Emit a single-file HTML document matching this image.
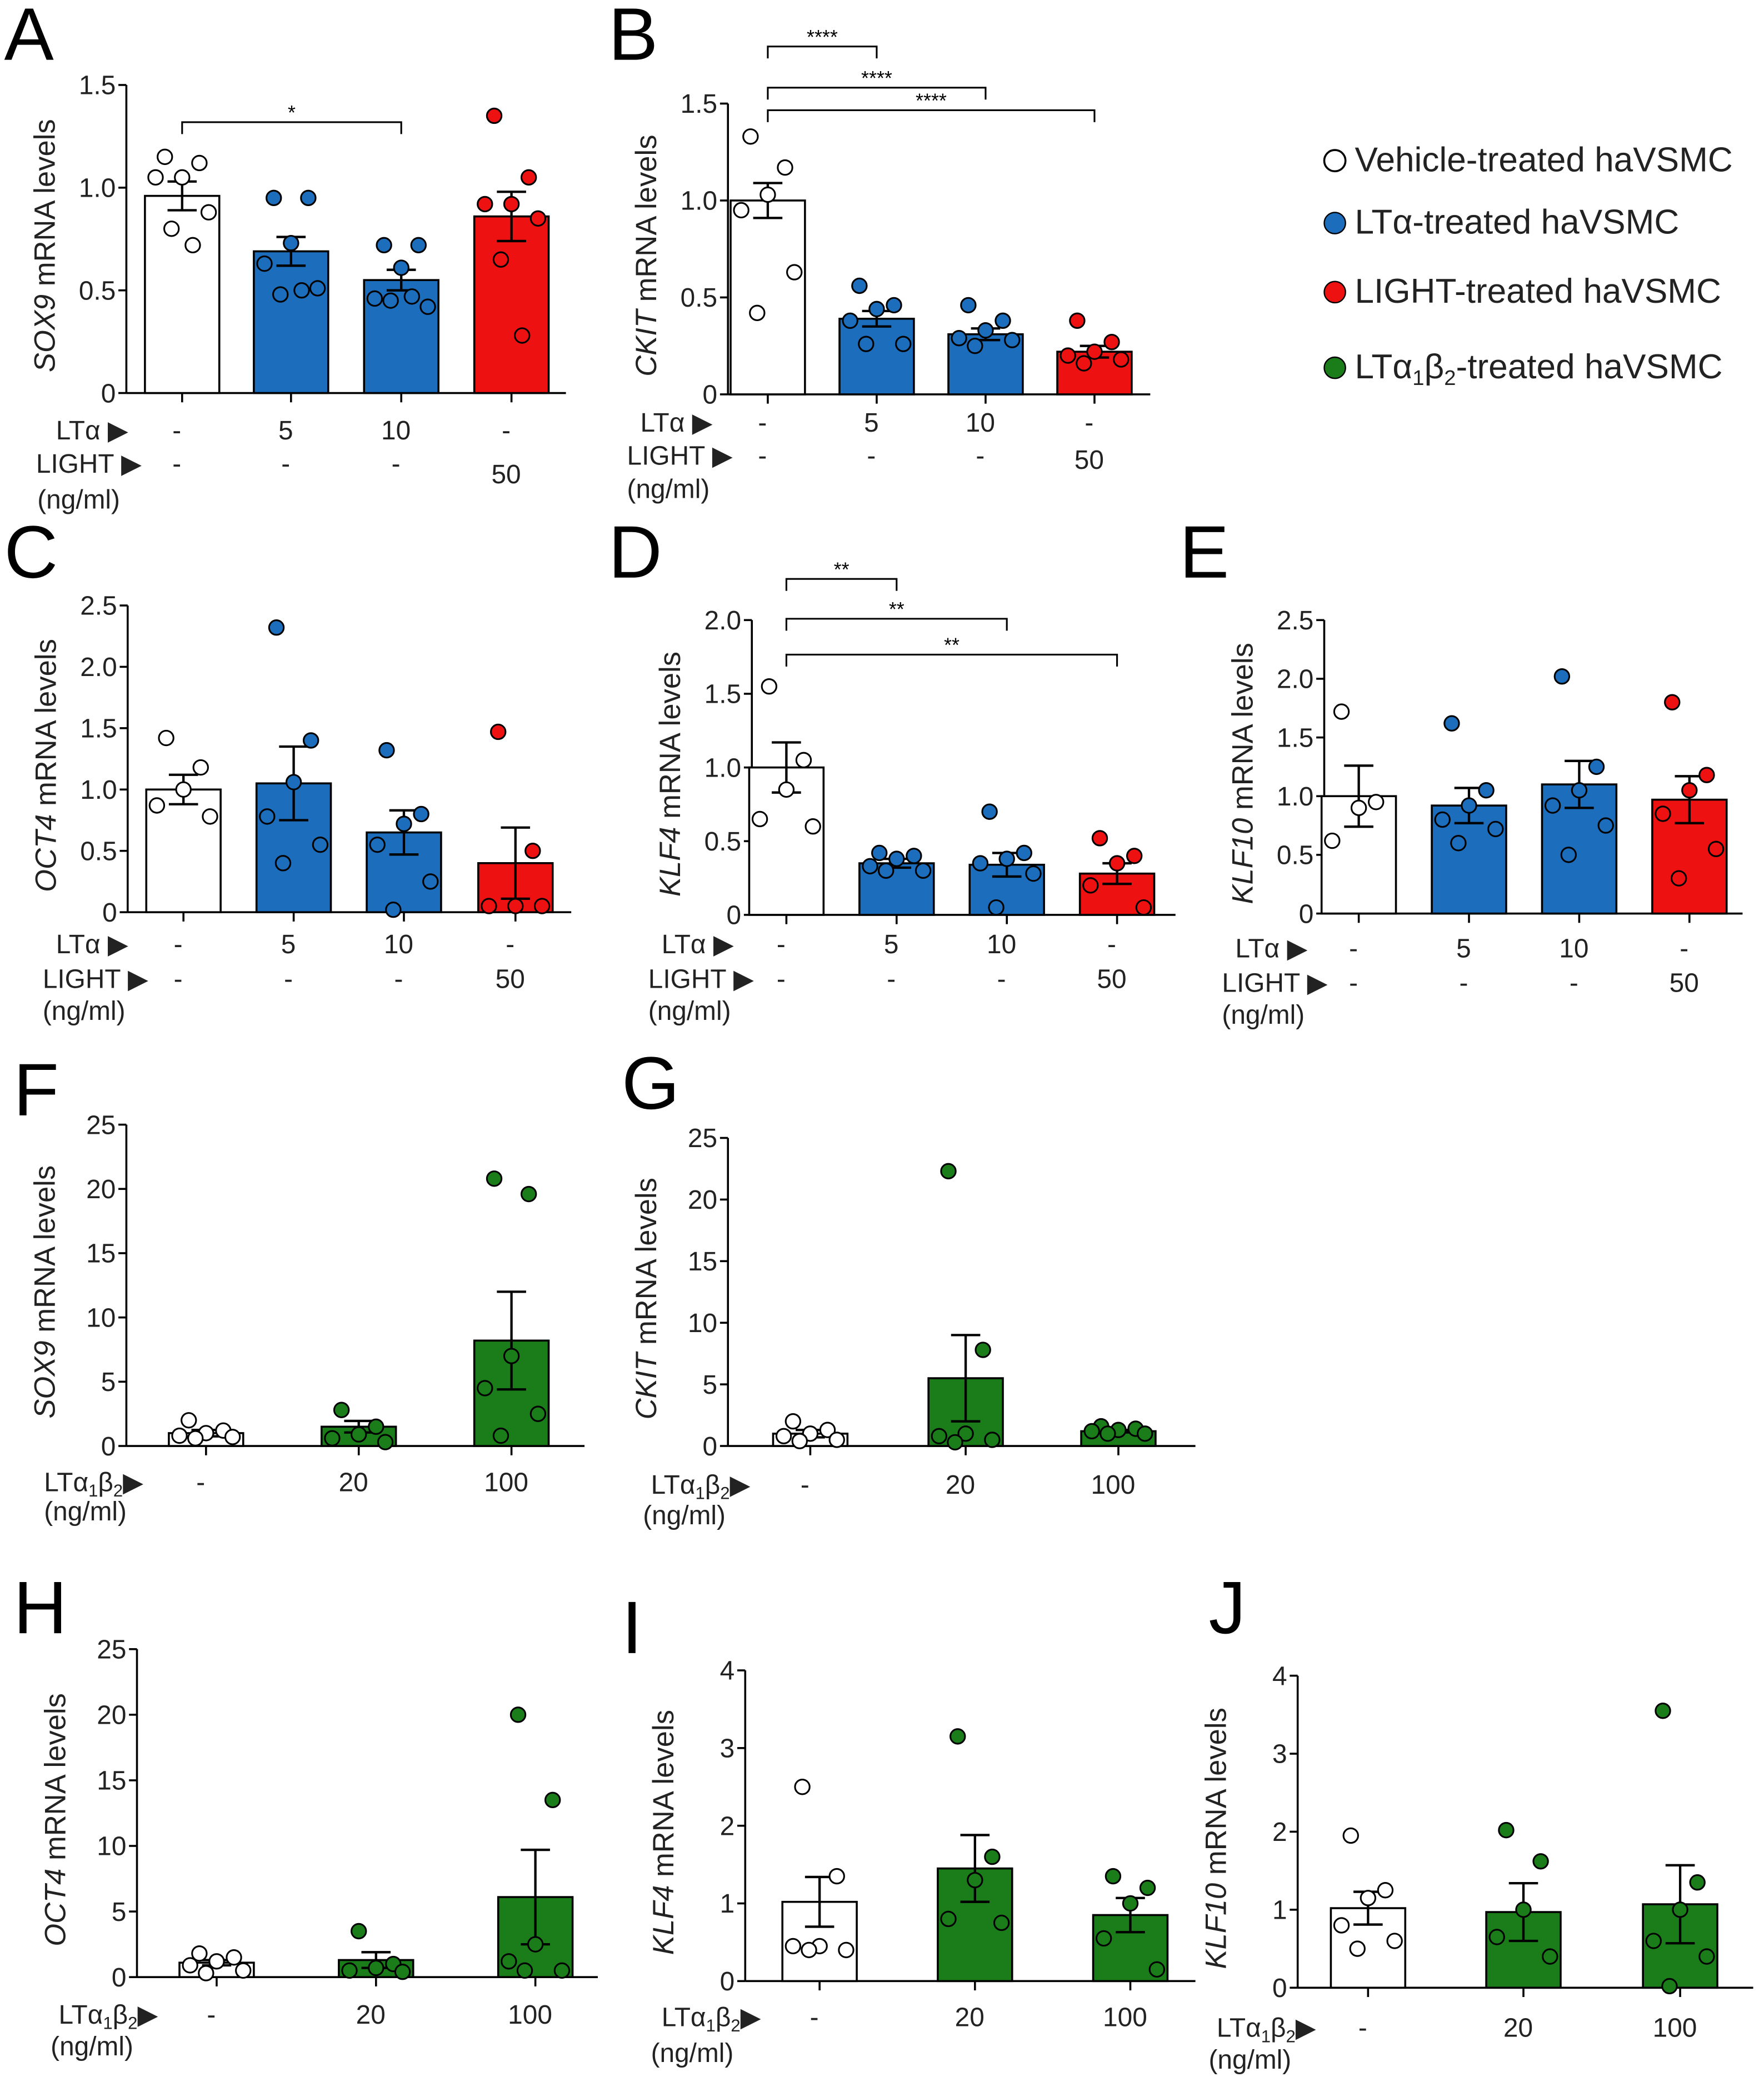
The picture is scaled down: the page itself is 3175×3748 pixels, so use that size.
<!DOCTYPE html>
<html><head><meta charset="utf-8"><style>
html,body{margin:0;padding:0;background:#fff;}
svg{display:block;font-family:"Liberation Sans",Arial,sans-serif;}
</style></head><body>
<svg id="fig" width="3175" height="3748" viewBox="0 0 1328 1568" xmlns="http://www.w3.org/2000/svg">
<g id="legend" font-size="26" fill="#222">
<circle cx="1005" cy="121" r="8" fill="#fff" stroke="#000" stroke-width="1.5"/>
<text x="1020" y="129">Vehicle-treated haVSMC</text>
<circle cx="1005" cy="168" r="8" fill="#1c6ebd" stroke="#000" stroke-width="1"/>
<text x="1020" y="176">LTα-treated haVSMC</text>
<circle cx="1005" cy="220" r="8" fill="#ee1111" stroke="#000" stroke-width="1"/>
<text x="1020" y="228">LIGHT-treated haVSMC</text>
<circle cx="1005" cy="277" r="8" fill="#1a7d1a" stroke="#000" stroke-width="1"/>
<text x="1020" y="285">LTα<tspan font-size="16" dy="5">1</tspan><tspan dy="-5">β</tspan><tspan font-size="16" dy="5">2</tspan><tspan dy="-5">-treated haVSMC</tspan></text>
</g>
</svg>
<script>
// ---- data ----
const A_means=[0.96,0.69,0.55,0.86];
const A_err=[0.07,0.07,0.05,0.12];
const A_pts=[[1.15,1.12,1.05,1.05,0.88,0.80,0.72],[0.95,0.95,0.73,0.63,0.51,0.48,0.50],[0.72,0.72,0.61,0.46,0.42,0.45,0.47],[1.35,1.05,0.92,0.92,0.85,0.65,0.28]];
const B_means=[1.00,0.39,0.31,0.22];
const B_err=[0.09,0.04,0.03,0.03];
const B_pts=[[1.33,1.17,1.03,0.95,0.63,0.42],[0.56,0.46,0.44,0.38,0.26,0.26],[0.46,0.38,0.33,0.29,0.28,0.25],[0.38,0.27,0.22,0.20,0.18,0.16]];
const C_means=[1.00,1.05,0.65,0.40];
const C_err=[0.12,0.30,0.18,0.29];
const C_pts=[[1.42,1.18,1.00,0.87,0.78],[2.32,1.40,1.06,0.78,0.55,0.40],[1.32,0.80,0.72,0.55,0.25,0.02],[1.47,0.50,0.05,0.05,0.05]];
const D_means=[1.00,0.35,0.34,0.28];
const D_err=[0.17,0.03,0.08,0.07];
const D_pts=[[1.55,1.05,0.85,0.65,0.60],[0.42,0.40,0.38,0.33,0.30,0.30],[0.70,0.42,0.38,0.35,0.28,0.05],[0.52,0.40,0.35,0.20,0.05]];
const E_means=[1.00,0.92,1.10,0.97];
const E_err=[0.26,0.15,0.20,0.20];
const E_pts=[[1.72,0.95,0.90,0.62],[1.62,1.05,0.92,0.80,0.72,0.60],[2.02,1.25,1.05,0.92,0.75,0.50],[1.80,1.18,1.05,0.85,0.55,0.30]];
const F_means=[1.0,1.5,8.2];
const F_err=[0.25,0.45,3.8];
const F_pts=[[2.0,1.2,1.0,0.8,0.7,0.6],[2.8,1.5,0.9,0.6,0.3],[20.8,19.6,7.0,4.5,2.5,0.8]];
const G_means=[1.0,5.5,1.2];
const G_err=[0.3,3.5,0.1];
const G_pts=[[2.0,1.3,1.0,0.8,0.5,0.4],[22.3,7.8,1.0,0.8,0.5,0.3],[1.6,1.4,1.3,1.2,1.0,1.0]];
const H_means=[1.1,1.3,6.1];
const H_err=[0.2,0.6,3.6];
const H_pts=[[1.8,1.5,1.2,0.9,0.5,0.3],[3.5,1.0,0.7,0.5,0.4],[20.0,13.5,2.5,1.2,0.5,0.5]];
const I_means=[1.02,1.45,0.85];
const I_err=[0.32,0.43,0.22];
const I_pts=[[2.5,1.35,0.45,0.45,0.4,0.4],[3.15,1.6,1.3,0.8,0.75],[1.35,1.2,1.0,0.55,0.15]];
const J_means=[1.02,0.97,1.07];
const J_err=[0.21,0.37,0.5];
const J_pts=[[1.95,1.25,1.15,0.8,0.6,0.5],[2.02,1.62,1.0,0.65,0.4],[3.55,1.35,1.0,0.6,0.4,0.02]];
const ticks15=["0","0.5","1.0","1.5"],ticks25=["0","0.5","1.0","1.5","2.0","2.5"],ticks20=["0","0.5","1.0","1.5","2.0"],ticksBig=["0","5","10","15","20","25"],ticks4=["0","1","2","3","4"];
const tickVals15=[0,0.5,1,1.5],tickVals25=[0,0.5,1,1.5,2,2.5],tickVals20=[0,0.5,1,1.5,2],tickValsBig=[0,5,10,15,20,25],tickVals4=[0,1,2,3,4];

const W='#ffffff',BL='#1c6ebd',RD='#ee1111',GR='#1a7d1a';
const NS='http://www.w3.org/2000/svg';
const svg=document.getElementById('fig');
function el(tag,attrs,parent,text){const e=document.createElementNS(NS,tag);for(const k in attrs)e.setAttribute(k,attrs[k]);if(text!==undefined)e.textContent=text;(parent||svg).appendChild(e);return e;}

function panel(p){
  const g=el('g',{});
  
  
  const y=v=>p.y0-(v/p.vmax)*(p.y0-p.ytop);
  const lt=el('text',{x:p.lx,y:p.ly,'font-size':56},g,p.id);
  
  
  const ax=el('line',{x1:p.ax,y1:p.ytop,x2:p.ax,y2:p.y0,stroke:'#000','stroke-width':1.5},g);
  
  
  p.tv.forEach((v,i)=>{
    el('line',{x1:p.ax-6,y1:y(v),x2:p.ax,y2:y(v),stroke:'#000','stroke-width':1.5},g);
    const t=el('text',{x:p.ax-8,y:y(v)+7,'font-size':20,'text-anchor':'end',fill:'#222'},g,p.tl[i]);
    
    
  });
  const yt=el('text',{transform:`translate(${p.ax-54},${(p.ytop+p.y0)/2+5}) rotate(-90)`,'font-size':22,'text-anchor':'middle',fill:'#222'},g);
  
  
  el('tspan',{'font-style':'italic'},yt,p.gene);
  el('tspan',{},yt,'  mRNA levels');
  const xl=el('line',{x1:p.ax,y1:p.y0,x2:p.xend,y2:p.y0,stroke:'#000','stroke-width':1.5},g);
  
  
  const bw=p.bw||56;
  p.means.forEach((m,i)=>{
    const cx=p.cx[i];
    el('line',{x1:cx,y1:p.y0,x2:cx,y2:p.y0+7,stroke:'#000','stroke-width':1.5},g);
    const b=el('rect',{x:cx-bw/2,y:y(m),width:bw,height:p.y0-y(m),fill:p.col[i],stroke:'#000','stroke-width':1.5},g);
    
    
    const e=p.err[i];
    el('line',{x1:cx,y1:y(m-e),x2:cx,y2:y(m+e),stroke:'#000','stroke-width':1.8},g);
    el('line',{x1:cx-11,y1:y(m+e),x2:cx+11,y2:y(m+e),stroke:'#000','stroke-width':1.8},g);
    el('line',{x1:cx-11,y1:y(m-e),x2:cx+11,y2:y(m-e),stroke:'#000','stroke-width':1.8},g);
    const offs=[-13,13,0,-20,20,-8,8];
    p.pts[i].forEach((v,j)=>{
      const c=el('circle',{cx:cx+offs[j%offs.length],cy:y(v),r:5.5,fill:p.col[i],stroke:'#000','stroke-width':1.3},g);
      
      
    });
  });
  (p.br||[]).forEach(b=>{
    const x1=p.cx[0],x2=p.cx[b.to];
    el('polyline',{points:`${x1},${b.y+9} ${x1},${b.y} ${x2},${b.y} ${x2},${b.y+9}`,fill:'none',stroke:'#000','stroke-width':1.3},g);
    const s=el('text',{x:(x1+x2)/2,y:b.y-2,'font-size':15,'text-anchor':'middle'},g,b.s);
    
    
  });
  p.rows.forEach(r=>{
    const t=el('text',{x:r.x,y:r.y,'font-size':20,fill:'#222'},g);
    
    
    t.innerHTML=r.h;
    (r.v||[]).forEach((s,i)=>{
      el('text',{x:p.cx[i]-4,y:r.y+(r.dy&&r.dy[i]||0),'font-size':20,'text-anchor':'middle',fill:'#222'},g,s);
    });
  });
}
const LTA='LTα &#9654;',LIGHT='LIGHT &#9654;',L12='LTα<tspan font-size="13" dy="4">1</tspan><tspan dy="-4">β</tspan><tspan font-size="13" dy="4">2</tspan><tspan dy="-4">&#9654;</tspan>';
const four=[W,BL,BL,RD],three=[W,GR,GR];
panel({id:'A',lx:3,ly:45,ax:95,y0:296,ytop:64,vmax:1.5,tv:tickVals15,tl:ticks15,gene:'SOX9',xend:426,cx:[137,219,302,385],means:A_means,err:A_err,pts:A_pts,col:four,
 br:[{to:2,y:92,s:'*'}],rows:[{x:42,y:331,h:LTA,v:['-','5','10','-']},{x:27,y:356,h:LIGHT,v:['-','-','-','50'],dy:[0,0,0,8]},{x:28,y:383,h:'(ng/ml)'}]});
panel({id:'B',lx:458,ly:45,ax:548,y0:297,ytop:78,vmax:1.5,tv:tickVals15,tl:ticks15,gene:'CKIT',xend:866,cx:[578,660,742,824],means:B_means,err:B_err,pts:B_pts,col:four,
 br:[{to:1,y:35,s:'****'},{to:2,y:66,s:'****'},{to:3,y:83,s:'****'}],rows:[{x:482,y:325,h:LTA,v:['-','5','10','-']},{x:472,y:350,h:LIGHT,v:['-','-','-','50'],dy:[0,0,0,3]},{x:472,y:375,h:'(ng/ml)'}]});
panel({id:'C',lx:3,ly:435,ax:96,y0:687,ytop:456,vmax:2.5,tv:tickVals25,tl:ticks25,gene:'OCT4',xend:430,cx:[138,221,304,388],means:C_means,err:C_err,pts:C_pts,col:four,
 rows:[{x:42,y:718,h:LTA,v:['-','5','10','-']},{x:32,y:744,h:LIGHT,v:['-','-','-','50']},{x:32,y:768,h:'(ng/ml)'}]});
panel({id:'D',lx:458,ly:435,ax:566,y0:689,ytop:467,vmax:2.0,tv:tickVals20,tl:ticks20,gene:'KLF4',xend:885,cx:[592,675,758,841],means:D_means,err:D_err,pts:D_pts,col:four,
 br:[{to:1,y:436,s:'**'},{to:2,y:466,s:'**'},{to:3,y:493,s:'**'}],rows:[{x:498,y:718,h:LTA,v:['-','5','10','-']},{x:488,y:744,h:LIGHT,v:['-','-','-','50']},{x:488,y:768,h:'(ng/ml)'}]});
panel({id:'E',lx:888,ly:435,ax:997,y0:688,ytop:467,vmax:2.5,tv:tickVals25,tl:ticks25,gene:'KLF10',xend:1312,cx:[1023,1106,1189,1272],means:E_means,err:E_err,pts:E_pts,col:four,
 rows:[{x:930,y:721,h:LTA,v:['-','5','10','-']},{x:920,y:747,h:LIGHT,v:['-','-','-','50']},{x:920,y:771,h:'(ng/ml)'}]});
panel({id:'F',lx:10,ly:840,ax:95,y0:1089,ytop:847,vmax:25,tv:tickValsBig,tl:ticksBig,gene:'SOX9',xend:440,cx:[155,270,385],means:F_means,err:F_err,pts:F_pts,col:three,
 rows:[{x:33,y:1123,h:L12,v:['-','20','100']},{x:33,y:1145,h:'(ng/ml)'}]});
panel({id:'G',lx:468,ly:835,ax:548,y0:1089,ytop:857,vmax:25,tv:tickValsBig,tl:ticksBig,gene:'CKIT',xend:900,cx:[610,727,842],means:G_means,err:G_err,pts:G_pts,col:three,
 rows:[{x:490,y:1125,h:L12,v:['-','20','100']},{x:484,y:1148,h:'(ng/ml)'}]});
panel({id:'H',lx:10,ly:1230,ax:103,y0:1489,ytop:1242,vmax:25,tv:tickValsBig,tl:ticksBig,gene:'OCT4',xend:450,cx:[163,283,403],means:H_means,err:H_err,pts:H_pts,col:three,
 rows:[{x:44,y:1524,h:L12,v:['-','20','100']},{x:38,y:1548,h:'(ng/ml)'}]});
panel({id:'I',lx:468,ly:1245,ax:561,y0:1492,ytop:1258,vmax:4,tv:tickVals4,tl:ticks4,gene:'KLF4',xend:900,cx:[617,734,851],means:I_means,err:I_err,pts:I_pts,col:three,
 rows:[{x:498,y:1526,h:L12,v:['-','20','100']},{x:490,y:1553,h:'(ng/ml)'}]});
panel({id:'J',lx:910,ly:1230,ax:977,y0:1497,ytop:1262,vmax:4,tv:tickVals4,tl:ticks4,gene:'KLF10',xend:1320,cx:[1030,1147,1265],means:J_means,err:J_err,pts:J_pts,col:three,
 rows:[{x:916,y:1534,h:L12,v:['-','20','100']},{x:910,y:1558,h:'(ng/ml)'}]});
</script>
</body></html>
